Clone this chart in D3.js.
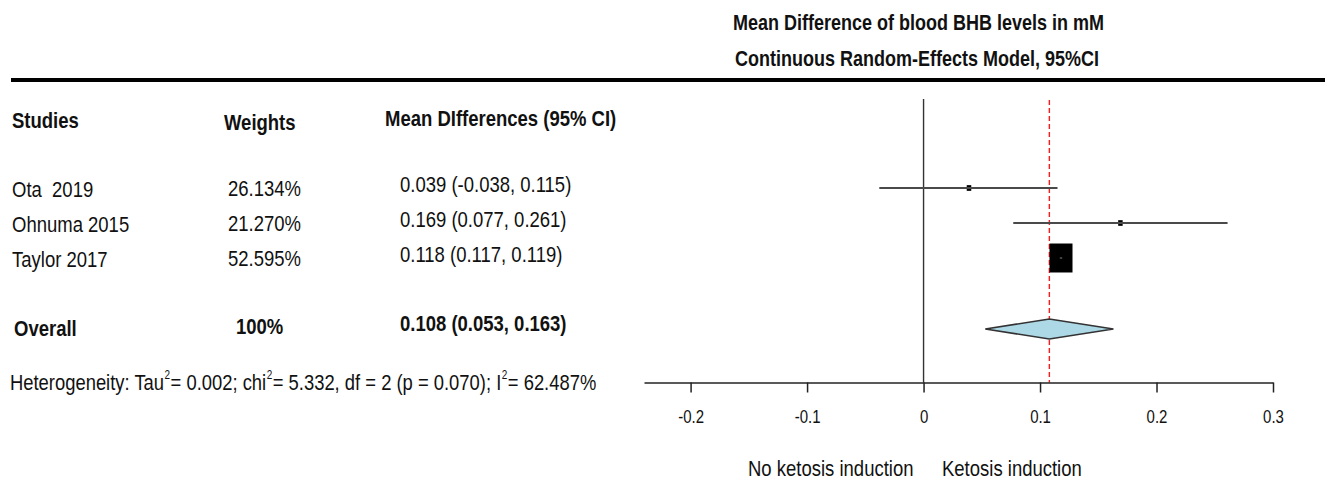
<!DOCTYPE html>
<html>
<head>
<meta charset="utf-8">
<script src="https://cdn.jsdelivr.net/npm/d3@7"></script>
<style>
  body { margin: 0; background: #fff; }
  text { font-family: "Liberation Sans", Arial, sans-serif; fill: #111; white-space: pre; }
</style>
</head>
<body>
<div id="forest"></div>
<script>
// data
var studies = ["Ota  2019", "Ohnuma 2015", "Taylor 2017"];
var weights = ["26.134%", "21.270%", "52.595%"];
var meanDiff = [0.039, 0.169, 0.118];
var ciLow = [-0.038, 0.077, 0.117];
var ciHigh = [0.115, 0.261, 0.119];
var overall = [0.108, 0.053, 0.163]; // estimate, low, high
var overallWeight = "100%";
var tau2 = "0.002", chi2 = "5.332", df = "2", pval = "0.070", i2 = "62.487%";
var xTicks = [-0.2, -0.1, 0, 0.1, 0.2, 0.3];

var svgWidth = 1331, svgHeight = 484;

var svg = d3.select("#forest").append("svg")
  .attr("width", svgWidth)
  .attr("height", svgHeight);

// text helper - the picture is a bit stretched vertically
function label(x, y, str, size, bold, anchor) {
  return svg.append("text")
    .attr("transform", `translate(${x}, ${y}) scale(1, 1.2)`)
    .attr("font-size", size)
    .attr("font-weight", bold ? "bold" : "normal")
    .attr("text-anchor", anchor || "start")
    .text(str);
}

// plain hyphen instead of unicode minus
var fmt = function(v) { return d3.format(".3f")(v).replace("\u2212", "-"); };

// titles + thick rule
label(733, 30, "Mean Difference of blood BHB levels in mM", 18, true);
label(735, 66, "Continuous Random-Effects Model, 95%CI", 18, true);
svg.append("line")
  .attr("x1", 11).attr("x2", 1325)
  .attr("y1", 80).attr("y2", 80)
  .attr("stroke", "#000").attr("stroke-width", 4);

// scales
var x = d3.scaleLinear().domain([-0.24, 0.3]).range([644, 1273]);
var rowY = function(i) { return 188 + 35 * i; };
var axisY = 382.5;

// column headers
label(12, 128, "Studies", 18.5, true);
label(224, 130, "Weights", 18.5, true);
label(385, 126, "Mean DIfferences (95% CI)", 18.5, true);

studies.forEach(function(s, i) {
  label(12, rowY(i) + 9, s, 18.5, false);
  label(228, rowY(i) + 8, weights[i], 18.5, false);
  label(400, rowY(i) + 4, `${fmt(meanDiff[i])} (${fmt(ciLow[i])}, ${fmt(ciHigh[i])})`, 18.5, false);
});

// overall row
label(14, rowY(4) + 8, "Overall", 18.5, true);
label(236, rowY(4) + 6, overallWeight, 18.5, true);
label(400, rowY(4) + 3, `${fmt(overall[0])} (${fmt(overall[1])}, ${fmt(overall[2])})`, 18.5, true);

// heterogeneity line with superscripts
var het = svg.append("text")
  .attr("transform", `translate(10, 390) scale(1, 1.2)`)
  .attr("font-size", 18.4);
function sup(t) {
  het.append("tspan").attr("font-size", 10).attr("dy", -9).attr("dx", 0.5).text("2");
  het.append("tspan").attr("dy", 9).attr("dx", 0.5).text(t);
}
het.append("tspan").text("Heterogeneity: Tau");
sup(`= ${tau2}; chi`);
sup(`= ${chi2}, df = ${df} (p = ${pval}); I`);
sup(`= ${i2}`);

// zero line and pooled estimate line
svg.append("line")
  .attr("x1", x(0)).attr("x2", x(0))
  .attr("y1", 99).attr("y2", axisY)
  .attr("stroke", "#333").attr("stroke-width", 1.4);
svg.append("line")
  .attr("x1", x(overall[0])).attr("x2", x(overall[0]))
  .attr("y1", 100).attr("y2", axisY)
  .attr("stroke", "#ff1a1a").attr("stroke-width", 1.4)
  .attr("stroke-dasharray", "5,3");

// box sizes from precision of each study
var prec = ciLow.map(function(l, i) { return 3.92 / (ciHigh[i] - l); });
var boxSize = d3.scaleLinear().domain(d3.extent(prec)).range([4.5, 23]);

var studyData = studies.map(function(s, i) {
  return { md: meanDiff[i], lo: ciLow[i], hi: ciHigh[i], p: prec[i], i: i };
});

svg.append("g").selectAll("rect")
  .data(studyData)
  .enter()
  .append("rect")
  .attr("x", d => x(d.md) - boxSize(d.p) / 2)
  .attr("y", d => rowY(d.i) - boxSize(d.p) * 1.26 / 2)
  .attr("width", d => boxSize(d.p))
  .attr("height", d => boxSize(d.p) * 1.26)
  .attr("fill", "#000");

svg.append("g").selectAll("line")
  .data(studyData)
  .enter()
  .append("line")
  .attr("x1", d => x(d.lo))
  .attr("x2", d => x(d.hi))
  .attr("y1", d => rowY(d.i))
  .attr("y2", d => rowY(d.i))
  .attr("stroke", "#4a4a4a")
  .attr("stroke-width", 1.8);

// pooled diamond
var dy = rowY(4) + 1;
svg.append("path")
  .attr("d", `M${x(overall[1])},${dy} L${x(overall[0])},${dy - 10} L${x(overall[2])},${dy} L${x(overall[0])},${dy + 10} Z`)
  .attr("fill", "#add8e6")
  .attr("stroke", "#333")
  .attr("stroke-width", 1.6);

// x axis
var bottomAxis = d3.axisBottom(x)
  .tickValues(xTicks)
  .tickSize(10)
  .tickSizeOuter(0)
  .tickFormat(d => String(+d.toFixed(1)));

var axisG = svg.append("g")
  .attr("transform", `translate(0, ${axisY})`)
  .call(bottomAxis);
axisG.select(".domain").attr("stroke", "#222").attr("stroke-width", 1.5);
axisG.selectAll(".tick line").attr("stroke", "#222").attr("stroke-width", 1.5);
axisG.selectAll("text")
  .attr("y", 0).attr("dy", null)
  .attr("transform", "translate(0, 40) scale(1, 1.2)")
  .attr("font-size", 15)
  .attr("font-family", "Liberation Sans, Arial, sans-serif")
  .attr("fill", "#333");

// direction labels
label(748, 476, "No ketosis induction", 18.5, false);
label(942, 476, "Ketosis induction", 18.5, false);
</script>
</body>
</html>
